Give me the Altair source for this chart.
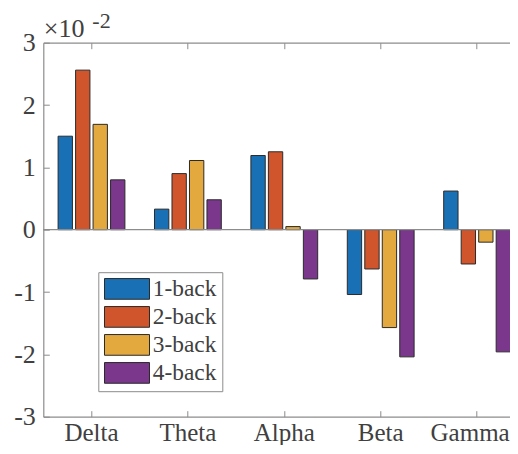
import altair as alt
import pandas as pd

# ---- data (values in units of 10^-2) ----
categories = ["Delta", "Theta", "Alpha", "Beta", "Gamma"]
series = ["1-back", "2-back", "3-back", "4-back"]
back1 = [1.50, 0.33, 1.19, -1.04, 0.62]
back2 = [2.56, 0.90, 1.25, -0.63, -0.55]
back3 = [1.69, 1.11, 0.05, -1.57, -0.20]
back4 = [0.80, 0.48, -0.79, -2.04, -1.96]
colors = ["#1A70B5", "#D0552C", "#E3A83E", "#7A378B"]
y_ticks = [-3, -2, -1, 0, 1, 2, 3]
baseline = [0]

rows = []
for s, vals in zip(series, [back1, back2, back3, back4]):
    for c, v in zip(categories, vals):
        rows.append({"band": c, "task": s, "value": v})
df = pd.DataFrame(rows)

FONT = "Liberation Serif"
AX = "#8c8c8c"
TXT = "#404040"
INWARD = alt.ExprRef(expr="-6")

xscale = alt.Scale(domain=categories, range=[0, 482],
                   paddingInner=0.307, paddingOuter=0.1535)
yscale = alt.Scale(domain=[-3, 3], nice=False, zero=False)


def y_axis():
    return alt.Axis(values=y_ticks, labelExpr="toString(datum.value)",
                    domain=True, domainColor=AX, domainWidth=1.2, grid=False,
                    tickSize=INWARD, tickColor=AX, tickWidth=1,
                    labelFont=FONT, labelFontSize=26, labelColor=TXT,
                    labelPadding=14,
                    title="-2", titleAngle=0, titleX=48.5, titleY=-15.5,
                    titleAlign="left", titleBaseline="alphabetic",
                    titleFont=FONT, titleFontSize=22, titleFontWeight="normal",
                    titleColor=TXT)


bars = alt.Chart(df).mark_bar(stroke="#2b2b2b", strokeWidth=1).encode(
    x=alt.X("band:N", sort=categories, scale=xscale,
            axis=alt.Axis(orient="bottom", title=None, domain=True, domainColor=AX,
                          domainWidth=1.2, labelAngle=0,
                          tickSize=INWARD, tickColor=AX, tickWidth=1,
                          labelFont=FONT, labelFontSize=25, labelColor=TXT,
                          labelBaseline="alphabetic", labelPadding=29.3,
                          labelOffset={"condition": {"test": "datum.value == 'Gamma'",
                                                     "value": -7},
                                       "value": 0})),
    xOffset=alt.XOffset("task:N", sort=series,
                        scale=alt.Scale(paddingInner=0.18, paddingOuter=0)),
    y=alt.Y("value:Q", scale=yscale, axis=y_axis()),
    color=alt.Color("task:N", sort=series,
                    scale=alt.Scale(domain=series, range=colors),
                    legend=alt.Legend(orient="none", legendX=55, legendY=229.5, title=None,
                                      symbolType="M-1,-0.986L3.286,-0.986L3.286,0.986L-1,0.986Z",
                                      symbolSize=441, symbolStrokeColor="#2b2b2b",
                                      symbolStrokeWidth=1, symbolOpacity=1,
                                      labelFont=FONT, labelFontSize=23.4, labelColor=TXT,
                                      labelOffset=26, strokeColor=AX, fillColor="white",
                                      padding=5, rowPadding=2)),
)

zero_rule = alt.Chart(pd.DataFrame({"z": baseline})).mark_rule(
    color=AX, strokeWidth=1.2
).encode(y=alt.Y("z:Q", scale=yscale, axis=y_axis()))

top_axis = alt.Chart(pd.DataFrame({"band": categories})).mark_text(text="").encode(
    x=alt.X("band:N", sort=categories, scale=xscale,
            axis=alt.Axis(orient="top", domain=True, domainColor=AX, domainWidth=1.2,
                          labels=False, tickSize=INWARD, tickColor=AX, tickWidth=1,
                          title="×10", titleAngle=0, titleX=0, titleY=-6,
                          titleAlign="left", titleBaseline="alphabetic",
                          titleFont=FONT, titleFontSize=26, titleFontWeight="normal",
                          titleColor=TXT))
)

chart = alt.layer(bars, zero_rule, top_axis).resolve_axis(x="independent").properties(
    width=466.7, height=374,
    autosize=alt.AutoSizeParams(type="none"),
    padding={"left": 35.3, "top": 34.7, "right": 0, "bottom": 28.3},
).configure_view(stroke=None)

chart.save("out.html", embed_options={"renderer": "svg", "actions": False})
